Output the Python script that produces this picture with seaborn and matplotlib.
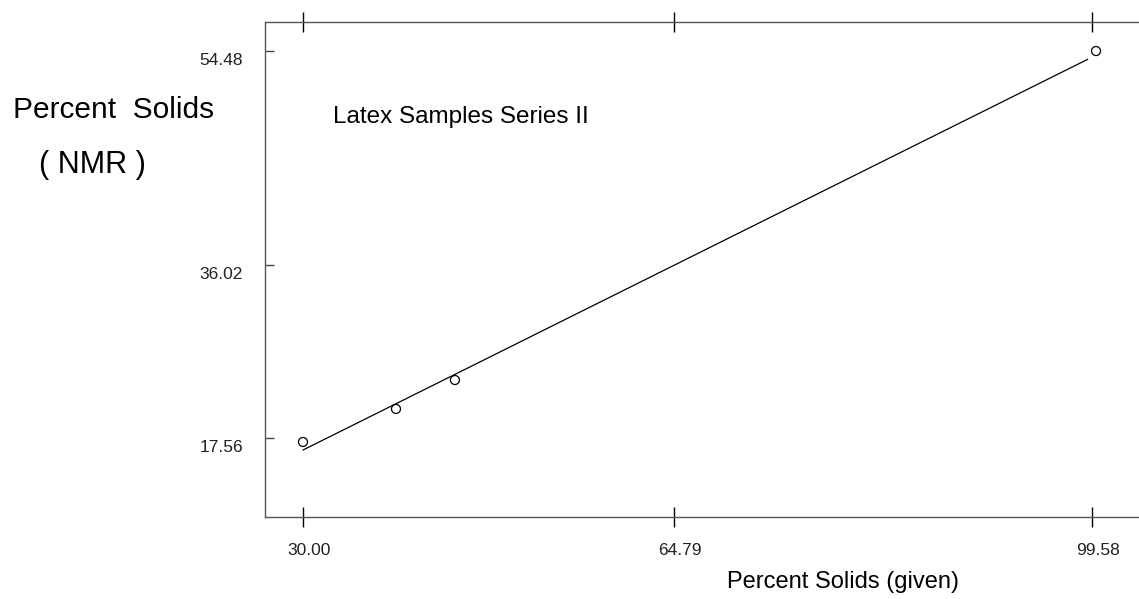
import matplotlib
matplotlib.use("Agg")
import matplotlib.pyplot as plt
from matplotlib.transforms import ScaledTranslation
import seaborn as sns
import pandas as pd

# ---- data ----
given = [30.0, 38.2, 43.4, 99.93]
nmr = [17.18, 20.33, 23.09, 54.48]
fit_x = [30.0, 99.2]
fit_y = [16.41, 53.69]
xtick_pos = [30.0, 62.72, 99.58]
xtick_labels = ["30.00", "64.79", "99.58"]
ytick_pos = [17.56, 34.06, 54.48]
ytick_labels = ["17.56", "36.02", "54.48"]

sns.set_theme(style="ticks")
plt.rcParams["font.family"] = ["Liberation Sans", "DejaVu Sans"]

W, H = 1139, 599
fig = plt.figure(figsize=(W / 100, H / 100), dpi=100)
ax = fig.add_axes([265 / W, 1 - 517 / H, 1 - 265 / W, (517 - 22) / H])

df = pd.DataFrame({"given": given, "nmr": nmr})
fit = pd.DataFrame({"x": fit_x, "y": fit_y})

sns.lineplot(data=fit, x="x", y="y", ax=ax, color="black", linewidth=0.9)
sns.scatterplot(data=df, x="given", y="nmr", ax=ax, marker="o", s=42,
                facecolors="none", edgecolor="black", linewidth=0.9, zorder=3)

ax.set_xlim(26.65, 103.72)
ax.set_ylim(10.02, 57.25)
ax.set_xlabel("")
ax.set_ylabel("")

for side in ["top", "bottom", "left"]:
    ax.spines[side].set_color("#555555")
    ax.spines[side].set_linewidth(1.0)
ax.spines["right"].set_visible(False)

ax.set_xticks(xtick_pos, xtick_labels)
ax.set_yticks(ytick_pos, ytick_labels)
ax.tick_params(axis="x", direction="inout", length=14.4, width=1.0, color="black",
               top=True, bottom=True, labeltop=False, pad=11.5, labelsize=12.5,
               labelcolor="#222222")
ax.tick_params(axis="y", direction="in", length=6.5, width=1.0, color="#444444",
               left=True, right=False, pad=16, labelsize=12.5, labelcolor="#222222")

off_x = ScaledTranslation(6 / 100, 0, fig.dpi_scale_trans)
for lbl in ax.get_xticklabels():
    lbl.set_transform(lbl.get_transform() + off_x)
off_y = ScaledTranslation(0, -2 / 100, fig.dpi_scale_trans)
for lbl in ax.get_yticklabels():
    lbl.set_verticalalignment("top")
    lbl.set_transform(lbl.get_transform() + off_y)

fig.text(114 / W, 1 - 110 / H, "Percent  Solids", fontsize=21.5, ha="center",
         va="center", color="black")
fig.text(92 / W, 1 - 165 / H, "( NMR )", fontsize=22, ha="center",
         va="center", color="black")
fig.text(333 / W, 1 - 117 / H, "Latex Samples Series II", fontsize=17.5,
         ha="left", va="center", color="black")
fig.text(843 / W, 1 - 582 / H, "Percent Solids (given)", fontsize=17,
         ha="center", va="center", color="black")

fig.savefig("out.png", dpi=100)
